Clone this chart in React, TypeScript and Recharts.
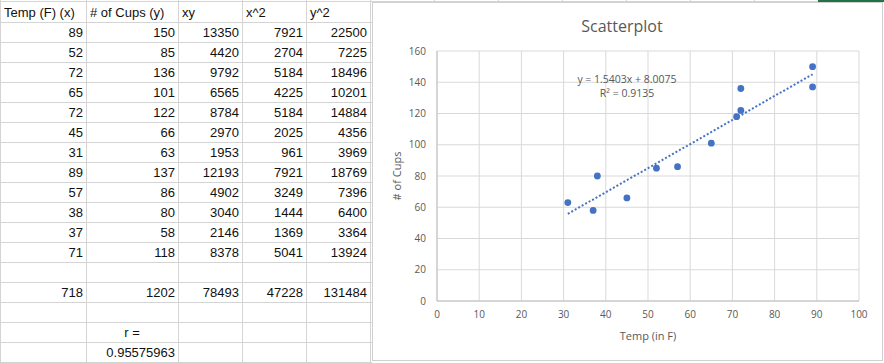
import React from 'react';
import { ScatterChart, Scatter, XAxis, YAxis, CartesianGrid, ReferenceLine } from 'recharts';

// ---- data ----
const temps = [89, 52, 72, 65, 72, 45, 31, 89, 57, 38, 37, 71];
const cups = [150, 85, 136, 101, 122, 66, 63, 137, 86, 80, 58, 118];
const xyCol = [13350, 4420, 9792, 6565, 8784, 2970, 1953, 12193, 4902, 3040, 2146, 8378];
const x2Col = [7921, 2704, 5184, 4225, 5184, 2025, 961, 7921, 3249, 1444, 1369, 5041];
const y2Col = [22500, 7225, 18496, 10201, 14884, 4356, 3969, 18769, 7396, 6400, 3364, 13924];
const totals = [718, 1202, 78493, 47228, 131484];
const headers = ['Temp (F) (x)', '# of Cups (y)', 'xy', 'x^2', 'y^2'];
const rLabel = 'r =';
const rValue = '0.95575963';

const xTicks = [0, 10, 20, 30, 40, 50, 60, 70, 80, 90, 100];
const yTicks = [0, 20, 40, 60, 80, 100, 120, 140, 160];
const slope = 1.5403;
const intercept = 8.0075;
const rSquared = '0.9135';
const trendStart = 31;
const trendEnd = 89;

const points = temps.map((t, i) => ({ x: t, y: cups[i] }));

// ---- layout ----
const colX = [0, 86, 178, 242, 306, 370];
const rowTop = (r: number) => 2 + r * 20;
const tableFont = "'Liberation Sans', Arial, sans-serif";
const chartFont = "'Open Sans', 'Liberation Sans', sans-serif";
const gridLine = '#d4d4d4';
const txt = '#595959';

function Cell({ col, row, text, align }: { col: number; row: number; text: string; align: 'left' | 'right' | 'center' }) {
  const left = colX[col];
  const width = colX[col + 1] - colX[col];
  return (
    <div
      style={{
        position: 'absolute',
        left,
        top: rowTop(row),
        width,
        height: 20,
        lineHeight: '21px',
        textAlign: align,
        boxSizing: 'border-box',
        paddingLeft: align === 'left' ? 4 : 0,
        paddingRight: align === 'right' ? 3 : 0,
        fontFamily: tableFont,
        fontSize: 13,
        color: '#111',
        whiteSpace: 'nowrap',
        overflow: 'visible',
      }}
    >
      {text}
    </div>
  );
}

const Dot = (props: any) => {
  const { cx, cy } = props;
  return <circle cx={cx} cy={cy} r={3.4} fill="#4472C4" />;
};

export default function App() {
  const cells: React.ReactNode[] = [];
  headers.forEach((h, c) => cells.push(<Cell key={'h' + c} col={c} row={0} text={h} align="left" />));
  const cols = [temps, cups, xyCol, x2Col, y2Col];
  temps.forEach((_, r) => {
    cols.forEach((arr, c) => cells.push(<Cell key={`d${r}-${c}`} col={c} row={r + 1} text={String(arr[r])} align="right" />));
  });
  totals.forEach((v, c) => cells.push(<Cell key={'t' + c} col={c} row={14} text={String(v)} align="right" />));
  cells.push(<Cell key="rl" col={1} row={16} text={rLabel} align="center" />);
  cells.push(<Cell key="rv" col={1} row={17} text={rValue} align="right" />);

  const hLines: React.ReactNode[] = [];
  for (let k = 0; k <= 17; k++) {
    const y = 22 + k * 20;
    hLines.push(<div key={'hl' + k} style={{ position: 'absolute', left: 0, top: y, width: 372, height: 1, background: gridLine }} />);
  }
  const vLines = colX.map((x, i) => (
    <div key={'vl' + i} style={{ position: 'absolute', left: x, top: 0, width: 1, height: 363, background: gridLine }} />
  ));
  const topCols = [434, 498, 562, 626, 690, 754, 818].map((x, i) => (
    <div key={'tc' + i} style={{ position: 'absolute', left: x, top: 0, width: 1, height: 3, background: gridLine }} />
  ));

  return (
    <div style={{ position: 'fixed', left: 0, top: 0, width: 884, height: 363, background: '#fff', overflow: 'hidden' }}>
      {hLines}
      {vLines}
      <div style={{ position: 'absolute', left: 0, top: 1, width: 884, height: 1, background: gridLine }} />
      {topCols}
      <div style={{ position: 'absolute', left: 818, top: 0, width: 66, height: 2, background: '#217346' }} />
      {cells}

      {/* chart box */}
      <div
        style={{
          position: 'absolute',
          left: 372,
          top: 2,
          width: 511,
          height: 359,
          background: '#fff',
          border: '1px solid #d0d0d0',
          boxSizing: 'border-box',
        }}
      />
      <div style={{ position: 'absolute', left: 372, top: 2 }}>
        <ScatterChart width={511} height={359} margin={{ top: 49, right: 24, left: 0, bottom: 0 }}>
          <CartesianGrid stroke="#d9d9d9" />
          <XAxis
            type="number"
            dataKey="x"
            domain={[0, 100]}
            ticks={xTicks}
            interval={0}
            tickLine={false}
            axisLine={{ stroke: '#bfbfbf' }}
            tick={{ fill: txt, fontSize: 10, fontFamily: chartFont }}
            tickMargin={4}
            height={60}
          />
          <YAxis
            type="number"
            dataKey="y"
            domain={[0, 160]}
            ticks={yTicks}
            interval={0}
            tickLine={false}
            axisLine={{ stroke: '#bfbfbf' }}
            tick={{ fill: txt, fontSize: 10, fontFamily: chartFont }}
            tickMargin={5}
            width={65}
          />
          <ReferenceLine
            segment={[
              { x: trendStart, y: slope * trendStart + intercept },
              { x: trendEnd, y: slope * trendEnd + intercept },
            ]}
            stroke="#4472C4"
            strokeWidth={2}
            strokeDasharray="2 2"
          />
          <Scatter data={points} fill="#4472C4" shape={Dot} isAnimationActive={false} />
        </ScatterChart>
      </div>

      {/* title */}
      <div style={{ position: 'absolute', left: 522, top: 14, width: 200, textAlign: 'center', fontFamily: chartFont, fontSize: 16, color: txt, lineHeight: '24px' }}>
        Scatterplot
      </div>
      {/* equation */}
      <div style={{ position: 'absolute', left: 527, top: 72, width: 200, textAlign: 'center', fontFamily: chartFont, fontSize: 10.5, color: txt, lineHeight: '14px' }}>
        {`y = ${slope}x + ${intercept.toFixed(4)}`}
        <br />
        {`R² = ${rSquared}`}
      </div>
      {/* x axis title */}
      <div style={{ position: 'absolute', left: 548, top: 327, width: 200, textAlign: 'center', fontFamily: chartFont, fontSize: 11, color: txt, lineHeight: '18px' }}>
        Temp (in F)
      </div>
      {/* y axis title */}
      <div
        style={{
          position: 'absolute',
          left: 397 - 50,
          top: 176 - 9,
          width: 100,
          height: 18,
          textAlign: 'center',
          fontFamily: chartFont,
          fontSize: 11,
          color: txt,
          lineHeight: '18px',
          transform: 'rotate(-90deg)',
        }}
      >
        # of Cups
      </div>
    </div>
  );
}
